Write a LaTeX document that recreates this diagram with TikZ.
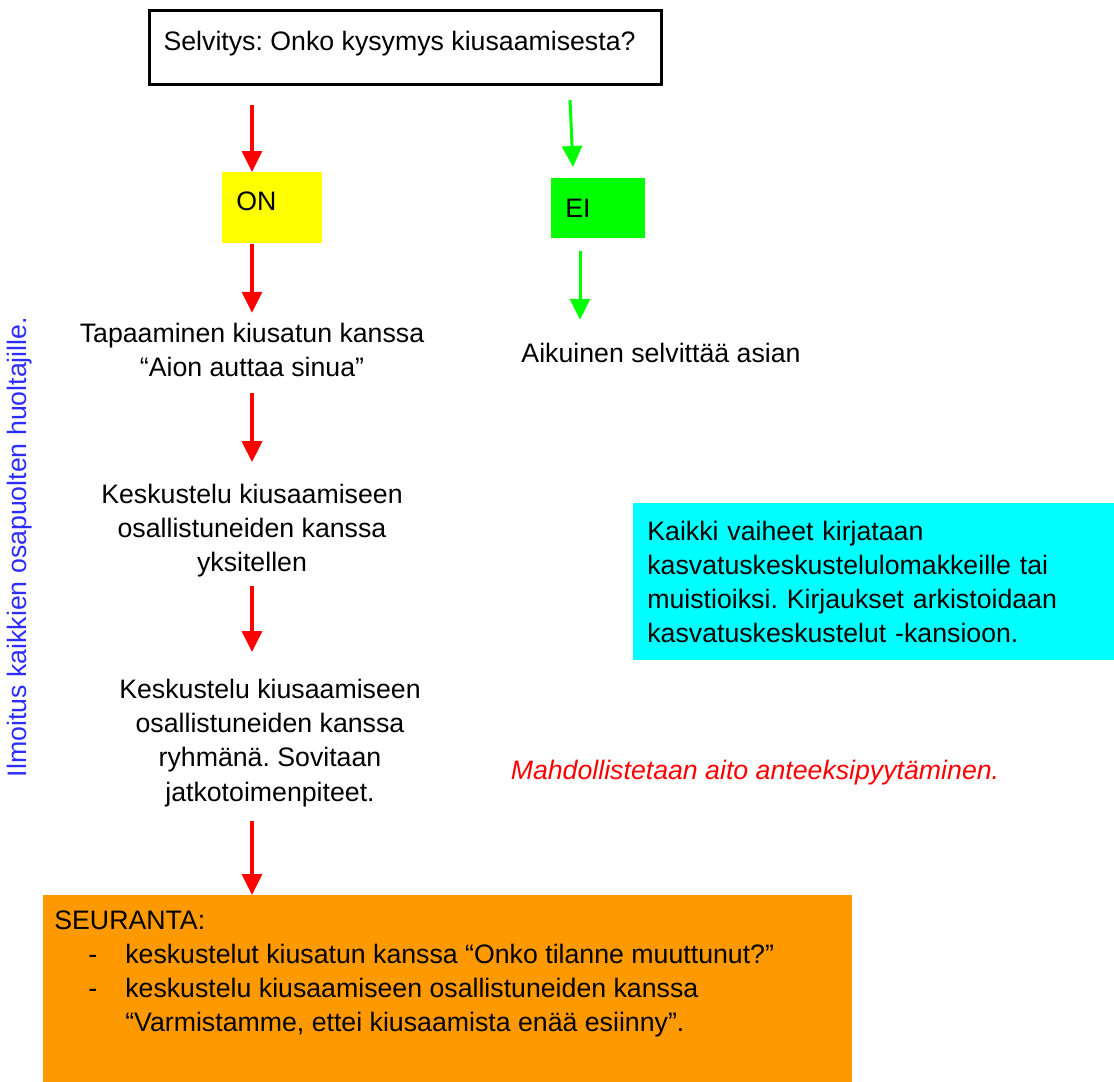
\documentclass[tikz,border=0pt]{standalone}
\usepackage{fontspec}
\setmainfont{Liberation Sans}
\usepackage{xcolor}
\usetikzlibrary{arrows.meta, positioning, calc}
\frenchspacing

\definecolor{onyellow}{RGB}{255,255,0}
\definecolor{eigreen}{RGB}{0,255,0}
\definecolor{notecyan}{RGB}{0,255,255}
\definecolor{seurorange}{RGB}{255,153,0}
\definecolor{arrred}{RGB}{255,0,0}
\definecolor{infoblue}{RGB}{45,45,255}

\begin{document}
\begin{tikzpicture}[
    x=0.02cm, y=-0.02cm,
    font=\fontsize{15.2}{19.4}\selectfont,
    question/.style={rectangle, draw=black, line width=1.8pt, minimum width=10.24cm, minimum height=1.48cm, inner xsep=0.28cm, anchor=north west, text height=0.75em, text depth=0.45em},
    onbox/.style={rectangle, fill=onyellow, minimum width=2cm, minimum height=1.42cm, inner xsep=0.28cm, text width=1.44cm, align=left, anchor=north west, text height=0.75em, text depth=0.45em},
    eibox/.style={rectangle, fill=eigreen, minimum width=1.88cm, minimum height=1.2cm, inner xsep=0.28cm, text width=1.32cm, align=left, anchor=north west},
    stepnode/.style={inner sep=0pt, align=center},
    notebox/.style={rectangle, fill=notecyan, minimum width=9.62cm, minimum height=3.14cm, inner xsep=0.28cm, text width=9.06cm, align=left, anchor=north west},
    seurbox/.style={rectangle, fill=seurorange, minimum width=16.18cm, minimum height=3.8cm, anchor=north west},
    redarrow/.style={draw=arrred, line width=1.9pt, -{Triangle[length=0.42cm, width=0.4cm]}},
    grnarrow/.style={draw=eigreen, line width=1.7pt, -{Triangle[length=0.42cm, width=0.4cm]}},
]
\useasboundingbox (0,0) rectangle (1114,1081);

% Question
\node[question] (q) at (148,9) {\makebox[9.68cm][l]{Selvitys: Onko kysymys kiusaamisesta?}};

% Answers
\node[onbox] (on) at (222,172) {ON};
\node[eibox] (ei) at (551,178) {EI};

% Steps (ON)
\node[stepnode] (tap) at (252,350) {Tapaaminen kiusatun kanssa\\“Aion auttaa sinua”};
\node[stepnode] (kesk1) at (252,531) {Keskustelu kiusaamiseen\\osallistuneiden kanssa\\yksitellen};
\node[stepnode] (kesk2) at (270,743) {Keskustelu kiusaamiseen\\osallistuneiden kanssa\\ryhmänä. Sovitaan\\jatkotoimenpiteet.};

% Step (EI)
\node[stepnode] (aik) at (661,353) {Aikuinen selvittää asian};

% Side notes
\node[stepnode, rotate=90, text=infoblue] (ilm) at (20,547) {Ilmoitus kaikkien osapuolten huoltajille.};
\node[notebox] (kirj) at (633,503) {Kaikki vaiheet kirjataan\\kasvatuskeskustelulomakkeille tai\\muistioiksi. Kirjaukset arkistoidaan\\kasvatuskeskustelut -kansioon.};
\node[stepnode, text=arrred, font=\fontsize{15.2}{19.4}\selectfont\itshape] (mahd) at (755,773) {Mahdollistetaan aito anteeksipyytäminen.};

% Follow-up
\node[seurbox] (seur) at (43,895) {};
\node[inner sep=0pt, align=left, anchor=north west] (seurtxt) at (54,910) {SEURANTA:\\
\hspace*{0.68cm}\makebox[0.74cm][l]{-}keskustelut kiusatun kanssa “Onko tilanne muuttunut?”\\
\hspace*{0.68cm}\makebox[0.74cm][l]{-}keskustelu kiusaamiseen osallistuneiden kanssa\\
\hspace*{1.42cm}“Varmistamme, ettei kiusaamista enää esiinny”.};

% Red path
\draw[redarrow] ($(q.south -| tap)+(0,19)$) -- (on.north -| tap);
\draw[redarrow] (on.south -| tap) -- ($(tap.north)+(0,-10)$);
\draw[redarrow] ($(tap.south)+(0,16)$) -- ($(kesk1.north)+(0,-22)$);
\draw[redarrow] ($(kesk1.south)+(0,8)$) -- ($(kesk2.north -| kesk1)+(0,-27)$);
\draw[redarrow] ($(kesk2.south -| kesk1)+(0,14)$) -- (seur.north -| kesk1);

% Green path
\draw[grnarrow] ($(q.south -| ei.west)+(19,14)$) -- ($(ei.north west)+(22,-11)$);
\draw[grnarrow] ($(ei.south west)+(29,12)$) -- ($(aik.north -| ei.west)+(29,-23)$);

\end{tikzpicture}
\end{document}
